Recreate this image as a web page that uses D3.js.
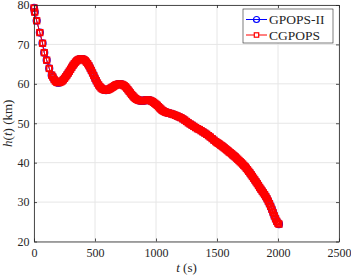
<!DOCTYPE html>
<html>
<head>
<meta charset="utf-8">
<script src="https://cdn.jsdelivr.net/npm/d3@7"></script>
<style>
  body { margin: 0; background: #fff; }
  svg { display: block; }
</style>
</head>
<body>
<div id="chart"></div>
<script>
// time (s) and altitude (km)
const gpopsT = [0, 6, 22, 48, 70, 84, 104, 125, 145, 155, 165, 175, 185, 192,
  200, 210, 220, 230, 240, 250, 260, 270, 280, 290, 300, 310, 320, 330, 340, 350, 360, 370, 380, 390,
  400, 410, 420, 430, 440, 450, 460, 470, 480, 490, 500, 510, 520, 530, 540, 550, 560, 570, 580, 590,
  600, 610, 620, 630, 640, 650, 660, 670, 680, 690, 700, 710, 720, 730, 740, 750, 760, 770, 780, 790,
  800, 810, 820, 830, 840, 850, 860, 870, 880, 890, 900, 910, 920, 930, 940, 950, 960, 970, 980, 990,
  1000, 1010, 1020, 1030, 1040, 1050, 1060, 1070, 1080, 1090, 1100, 1115, 1130, 1145, 1160, 1175, 1190,
  1205, 1220, 1235, 1250, 1265, 1280, 1295, 1310, 1325, 1340, 1355, 1370, 1385, 1400, 1415, 1430, 1445,
  1460, 1475, 1490, 1500, 1510, 1520, 1530, 1540, 1550, 1560, 1570, 1580, 1590, 1600, 1610, 1620, 1630,
  1640, 1650, 1660, 1670, 1680, 1690, 1700, 1710, 1720, 1730, 1740, 1750, 1760, 1770, 1780, 1790, 1800,
  1810, 1820, 1830, 1840, 1850, 1860, 1870, 1880, 1890, 1900, 1910, 1920, 1930, 1940, 1950, 1960, 1970,
  1980, 1990, 2000, 2008];
const gpopsH = [79.25, 78.2, 76.0, 73.0, 70.3, 67.9, 66.0, 63.9, 62.2, 61.7, 61.1, 60.7, 60.45, 60.35,
  60.3, 60.35, 60.5, 60.7, 61.0, 61.4, 61.8, 62.25, 62.7, 63.2, 63.7, 64.2, 64.7, 65.1, 65.5, 65.8, 66.05, 66.2, 66.3, 66.3,
  66.25, 66.1, 65.85, 65.5, 65.1, 64.6, 64.0, 63.4, 62.75, 62.1, 61.4, 60.8, 60.2, 59.7, 59.3, 58.95, 58.7, 58.55, 58.45, 58.4,
  58.45, 58.55, 58.7, 58.9, 59.1, 59.3, 59.5, 59.7, 59.8, 59.9, 59.95, 59.9, 59.85, 59.7, 59.5, 59.25, 58.9, 58.5, 58.1, 57.7,
  57.3, 56.95, 56.6, 56.3, 56.1, 55.95, 55.8, 55.75, 55.7, 55.7, 55.75, 55.8, 55.85, 55.9, 55.85, 55.8, 55.65, 55.5, 55.3, 55.05,
  54.8, 54.55, 54.2, 53.9, 53.6, 53.3, 53.1, 52.95, 52.8, 52.7, 52.6, 52.5, 52.35, 52.2, 52.0, 51.8, 51.6,
  51.4, 51.1, 50.8, 50.45, 50.1, 49.8, 49.5, 49.2, 48.9, 48.6, 48.4, 48.1, 47.8, 47.5, 47.2, 46.85, 46.5,
  46.1, 45.7, 45.35, 45.1, 44.9, 44.7, 44.45, 44.25, 44.0, 43.75, 43.5, 43.25, 43.0, 42.7, 42.5, 42.25, 41.95,
  41.7, 41.45, 41.15, 40.85, 40.55, 40.25, 39.95, 39.65, 39.3, 39.0, 38.6, 38.2, 37.8, 37.4, 36.95, 36.5, 36.05,
  35.6, 35.15, 34.7, 34.2, 33.7, 33.25, 32.8, 32.35, 31.9, 31.4, 30.85, 30.25, 29.6, 28.9, 28.15, 27.35, 26.5,
  25.75, 25.1, 24.6, 24.4];
// the two solutions coincide on the figure
const cgpopsT = gpopsT;
const cgpopsH = gpopsH;

const xTicks = [0, 500, 1000, 1500, 2000, 2500];
const yTicks = [20, 30, 40, 50, 60, 70, 80];
const seriesNames = ["GPOPS-II", "CGPOPS"];

const W = 351, H = 277;
const margin = { top: 5, right: 12, bottom: 35.5, left: 34 };
const width = W - margin.left - margin.right;
const height = H - margin.top - margin.bottom;
const ink = "#262626";
const serif = "'Liberation Serif', 'Times New Roman', serif";

const svg = d3
  .select("#chart")
  .append("svg")
  .attr("width", W)
  .attr("height", H);

const g = svg
  .append("g")
  .attr("transform", `translate(${margin.left},${margin.top})`);

const x = d3.scaleLinear().domain([0, 2500]).range([0, width]);
const y = d3.scaleLinear().domain([20, 80]).range([height, 0]);

// grid
g.append("g")
  .selectAll("line")
  .data(xTicks)
  .join("line")
  .attr("x1", (d) => x(d))
  .attr("x2", (d) => x(d))
  .attr("y1", 0)
  .attr("y2", height)
  .attr("stroke", "#e6e6e6")
  .attr("stroke-width", 1);

g.append("g")
  .selectAll("line")
  .data(yTicks)
  .join("line")
  .attr("x1", 0)
  .attr("x2", width)
  .attr("y1", (d) => y(d))
  .attr("y2", (d) => y(d))
  .attr("stroke", "#e6e6e6")
  .attr("stroke-width", 1);

// series
const gpops = gpopsT.map((t, i) => [t, gpopsH[i]]);
const cgpops = cgpopsT.map((t, i) => [t, cgpopsH[i]]);
const line = d3.line().x((d) => x(d[0])).y((d) => y(d[1]));

g.append("path")
  .datum(gpops)
  .attr("fill", "none")
  .attr("stroke", "#0000ff")
  .attr("stroke-width", 1)
  .attr("d", line);

g.append("g")
  .selectAll("circle")
  .data(gpops)
  .join("circle")
  .attr("cx", (d) => x(d[0]))
  .attr("cy", (d) => y(d[1]))
  .attr("r", 3.5)
  .attr("fill", "none")
  .attr("stroke", "#0000ff")
  .attr("stroke-width", 1.2);

g.append("path")
  .datum(cgpops)
  .attr("fill", "none")
  .attr("stroke", "#ff0000")
  .attr("stroke-width", 1)
  .attr("d", line);

const sq = 5.4;
g.append("g")
  .selectAll("rect")
  .data(cgpops)
  .join("rect")
  .attr("x", (d) => x(d[0]) - sq / 2)
  .attr("y", (d) => y(d[1]) - sq / 2)
  .attr("width", sq)
  .attr("height", sq)
  .attr("fill", "none")
  .attr("stroke", "#ff0000")
  .attr("stroke-width", 1.9);

// axes (box with inward ticks)
function styleAxis(sel) {
  sel.select(".domain").attr("stroke", ink).attr("stroke-width", 0.8);
  sel.selectAll(".tick line").attr("stroke", ink).attr("stroke-width", 0.8);
  sel
    .selectAll(".tick text")
    .attr("fill", ink)
    .style("font-family", serif)
    .style("font-size", "12px");
}

const fmt = d3.format("d");

g.append("g")
  .attr("transform", `translate(0,${height})`)
  .call(d3.axisBottom(x).tickValues(xTicks).tickFormat(fmt).tickSizeInner(-3).tickSizeOuter(0).tickPadding(7))
  .call(styleAxis);

g.append("g")
  .call(d3.axisLeft(y).tickValues(yTicks).tickFormat(fmt).tickSizeInner(-3).tickSizeOuter(0).tickPadding(4.5))
  .call(styleAxis);

g.append("g")
  .call(d3.axisTop(x).tickValues(xTicks).tickSizeInner(-3).tickSizeOuter(0).tickFormat(""))
  .call(styleAxis);

g.append("g")
  .attr("transform", `translate(${width},0)`)
  .call(d3.axisRight(y).tickValues(yTicks).tickSizeInner(-3).tickSizeOuter(0).tickFormat(""))
  .call(styleAxis);

// axis labels
const xl = svg
  .append("text")
  .attr("x", margin.left + width / 2)
  .attr("y", 272)
  .attr("text-anchor", "middle")
  .attr("fill", ink)
  .style("font-family", serif)
  .style("font-size", "13px");
xl.append("tspan").style("font-style", "italic").text("t");
xl.append("tspan").text(" (s)");

const yl = svg
  .append("text")
  .attr("transform", `translate(12,${margin.top + height / 2}) rotate(-90)`)
  .attr("text-anchor", "middle")
  .attr("fill", ink)
  .style("font-family", serif)
  .style("font-size", "13px");
yl.append("tspan").style("font-style", "italic").text("h");
yl.append("tspan").text("(");
yl.append("tspan").style("font-style", "italic").text("t");
yl.append("tspan").text(") (km)");

// legend
const lg = svg.append("g").attr("transform", "translate(243,9)");
lg.append("rect")
  .attr("width", 90)
  .attr("height", 34)
  .attr("fill", "#fff")
  .attr("stroke", ink)
  .attr("stroke-width", 0.6);

const colors = ["#0000ff", "#ff0000"];
seriesNames.forEach((name, i) => {
  const cy = 10.5 + i * 15.5;
  const row = lg.append("g");
  row.append("line")
    .attr("x1", 3).attr("x2", 24)
    .attr("y1", cy).attr("y2", cy)
    .attr("stroke", colors[i])
    .attr("stroke-width", 1);
  if (i === 0) {
    row.append("circle")
      .attr("cx", 13.5).attr("cy", cy).attr("r", 3)
      .attr("fill", "none").attr("stroke", colors[i]).attr("stroke-width", 1.2);
  } else {
    row.append("rect")
      .attr("x", 13.5 - 2.2).attr("y", cy - 2.2)
      .attr("width", 4.4).attr("height", 4.4)
      .attr("fill", "#fff").attr("stroke", colors[i]).attr("stroke-width", 1.2);
  }
  row.append("text")
    .attr("x", 26)
    .attr("y", cy + 4.5)
    .attr("fill", ink)
    .style("font-family", serif)
    .style("font-size", "13.5px")
    .text(name);
});
</script>
</body>
</html>
